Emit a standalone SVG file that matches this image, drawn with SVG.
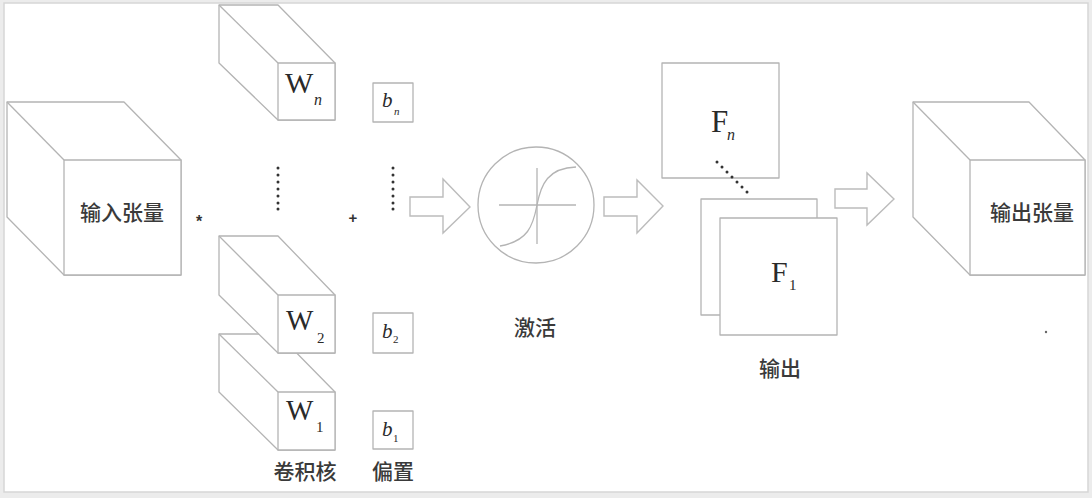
<svg xmlns="http://www.w3.org/2000/svg" width="1092" height="498" viewBox="0 0 1092 498">
  <style>
    .edge { fill: #fff; stroke: #b4b4b4; stroke-width: 1.3; stroke-linejoin: round; }
    .ln { fill: none; stroke: #b4b4b4; stroke-width: 1.3; }
    .arrow { fill: #fff; stroke: #bcbcbc; stroke-width: 1.4; stroke-linejoin: miter; }
    .cjk { font-family: "Noto Sans CJK SC", "Noto Sans", sans-serif; font-size: 21px; fill: #3a3a3a; text-anchor: middle; font-weight: 500; }
    .sym { font-family: "Liberation Serif", "Times New Roman", serif; fill: #2a2a2a; }
    .it { font-style: italic; }
    .dot { fill: #333; }
    .op { font-family: "Liberation Sans", Arial, sans-serif; fill: #333; text-anchor: middle; font-weight: bold; }
  </style>

  <!-- page frame -->
  <rect x="0" y="0" width="1092" height="498" fill="#ececec"/>
  <rect x="4" y="3" width="1084" height="489" fill="#fff" stroke="#d6d6d6" stroke-width="1.5"/>

  <!-- input tensor -->
  <g id="input-tensor">
    <polygon class="edge" points="7,102 124,102 181,160 181,275 64,275 7,217"/>
    <line class="ln" x1="7" y1="102" x2="64" y2="160"/>
    <rect class="edge" x="64" y="160" width="117" height="115"/>
    <text class="cjk" x="122" y="220">输入张量</text>
  </g>

  <text class="op" x="199" y="227" font-size="16">*</text>

  <!-- convolution kernels -->
  <g id="kernel-n">
    <polygon class="edge" points="219,5 278,5 335,63 335,120 278,120 219,63"/>
    <line class="ln" x1="219" y1="5" x2="278" y2="63"/>
    <rect class="edge" x="278" y="63" width="57" height="57"/>
    <text class="sym" x="285" y="93" font-size="30">W</text>
    <text class="sym it" x="314" y="105" font-size="16">n</text>
  </g>

  <g id="kernel-dots">
    <circle class="dot" cx="278" cy="168" r="1.5"/>
    <circle class="dot" cx="278" cy="175" r="1.5"/>
    <circle class="dot" cx="278" cy="182" r="1.5"/>
    <circle class="dot" cx="278" cy="189" r="1.5"/>
    <circle class="dot" cx="278" cy="196" r="1.5"/>
    <circle class="dot" cx="278" cy="203" r="1.5"/>
    <circle class="dot" cx="278" cy="209" r="1.5"/>
  </g>

  <g id="kernel-1">
    <polygon class="edge" points="219,334 278,334 335,392 335,450 278,450 219,392"/>
    <line class="ln" x1="219" y1="334" x2="278" y2="392"/>
    <rect class="edge" x="278" y="392" width="57" height="58"/>
    <text class="sym" x="286" y="420" font-size="29">W</text>
    <text class="sym" x="316" y="432" font-size="15">1</text>
  </g>

  <g id="kernel-2">
    <polygon class="edge" points="219,236 278,236 335,295 335,353 278,353 219,295"/>
    <line class="ln" x1="219" y1="236" x2="278" y2="295"/>
    <rect class="edge" x="278" y="295" width="57" height="58"/>
    <text class="sym" x="286" y="330" font-size="29">W</text>
    <text class="sym" x="317" y="343" font-size="15">2</text>
  </g>

  <text class="cjk" x="305" y="479">卷积核</text>

  <text class="op" x="353" y="223" font-size="15">+</text>

  <!-- biases -->
  <g id="bias-n">
    <rect class="edge" x="373" y="83" width="40" height="39"/>
    <text class="sym it" x="382" y="107" font-size="21">b</text>
    <text class="sym it" x="394" y="115" font-size="11">n</text>
  </g>

  <g id="bias-dots">
    <circle class="dot" cx="393" cy="168" r="1.5"/>
    <circle class="dot" cx="393" cy="175" r="1.5"/>
    <circle class="dot" cx="393" cy="182" r="1.5"/>
    <circle class="dot" cx="393" cy="189" r="1.5"/>
    <circle class="dot" cx="393" cy="196" r="1.5"/>
    <circle class="dot" cx="393" cy="203" r="1.5"/>
    <circle class="dot" cx="393" cy="209" r="1.5"/>
  </g>

  <g id="bias-2">
    <rect class="edge" x="373" y="313" width="40" height="40"/>
    <text class="sym it" x="382" y="338" font-size="21">b</text>
    <text class="sym" x="393" y="343" font-size="11">2</text>
  </g>

  <g id="bias-1">
    <rect class="edge" x="373" y="411" width="40" height="38"/>
    <text class="sym it" x="382" y="436" font-size="21">b</text>
    <text class="sym" x="393" y="442" font-size="11">1</text>
  </g>

  <text class="cjk" x="393" y="479">偏置</text>

  <!-- activation -->
  <g id="activation">
    <circle class="ln" cx="536" cy="205" r="58"/>
    <line class="ln" x1="499" y1="205" x2="576" y2="205"/>
    <line class="ln" x1="537" y1="168" x2="537" y2="244"/>
    <path class="ln" d="M500,246 C528,241 533,226 537,205 C541,184 548,168 576,167"/>
    <text class="cjk" x="535" y="335">激活</text>
  </g>

  <!-- output feature maps -->
  <g id="feature-n">
    <rect class="edge" x="662" y="63" width="117" height="115"/>
    <text class="sym" x="711" y="132" font-size="31">F</text>
    <text class="sym it" x="727" y="140" font-size="16">n</text>
  </g>

  <g id="feature-dots">
    <circle class="dot" cx="717" cy="162" r="1.5"/>
    <circle class="dot" cx="722" cy="167" r="1.5"/>
    <circle class="dot" cx="727" cy="172" r="1.5"/>
    <circle class="dot" cx="732" cy="177" r="1.5"/>
    <circle class="dot" cx="737" cy="182" r="1.5"/>
    <circle class="dot" cx="742" cy="187" r="1.5"/>
    <circle class="dot" cx="747" cy="192" r="1.5"/>
  </g>

  <g id="feature-1">
    <rect class="edge" x="701" y="199" width="116" height="116"/>
    <rect class="edge" x="720" y="218" width="117" height="117"/>
    <text class="sym" x="771" y="282" font-size="30">F</text>
    <text class="sym" x="789" y="290" font-size="15">1</text>
  </g>

  <text class="cjk" x="780" y="376">输出</text>

  <!-- output tensor -->
  <g id="output-tensor">
    <polygon class="edge" points="913,102 1029,102 1085,160 1085,275 970,275 913,217"/>
    <line class="ln" x1="913" y1="102" x2="970" y2="160"/>
    <rect class="edge" x="970" y="160" width="115" height="115"/>
    <text class="cjk" x="1032" y="220">输出张量</text>
    <circle cx="1046" cy="332" r="1.2" fill="#666"/>
  </g>

  <!-- flow arrows -->
  <g id="connectors">
    <polygon class="arrow" points="410,197 443,197 443,179 470,207 443,233 443,216 410,216"/>
    <polygon class="arrow" points="604,197 637,197 637,180 663,206 637,233 637,216 604,216"/>
    <polygon class="arrow" points="835,189 867,189 867,173 894,199 867,225 867,208 835,208"/>
  </g>
</svg>
